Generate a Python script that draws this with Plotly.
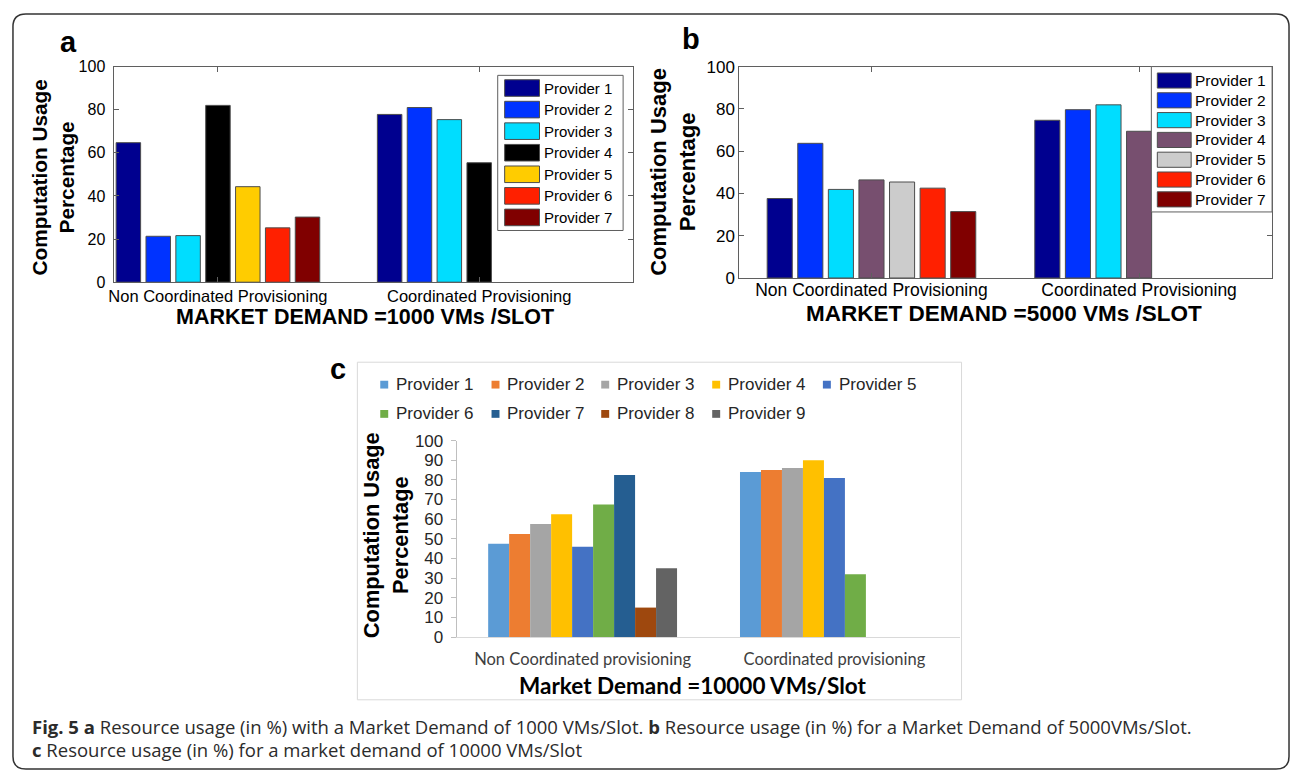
import plotly.graph_objects as go

W, H = 1291, 782

# ---------------- data ----------------
providers_ab = ["Provider 1", "Provider 2", "Provider 3", "Provider 4",
                "Provider 5", "Provider 6", "Provider 7"]
providers_c = ["Provider 1", "Provider 2", "Provider 3", "Provider 4", "Provider 5",
               "Provider 6", "Provider 7", "Provider 8", "Provider 9"]
categories_ab = ["Non Coordinated Provisioning", "Coordinated Provisioning"]
categories_c = ["Non Coordinated provisioning", "Coordinated provisioning"]

a_non = [64.7, 21.3, 21.6, 82.0, 44.3, 25.2, 30.2]
a_coord = [77.8, 81.0, 75.4, 55.4, None, None, None]
b_non = [37.6, 63.7, 41.9, 46.4, 45.4, 42.5, 31.4]
b_coord = [74.6, 79.6, 81.9, 69.4, None, None, None]
c_non = [47.5, 52.5, 57.5, 62.5, 46, 67.5, 82.5, 15, 35]
c_coord = [84, 85, 86, 90, 81, 32, None, None, None]

colors_a = ["#00008F", "#0033FF", "#00DDFF", "#000000", "#FFCC00", "#FF2000", "#800000"]
colors_b = ["#00008F", "#0033FF", "#00DDFF", "#774F6F", "#CCCCCC", "#FF2000", "#800000"]
colors_c = ["#5B9BD5", "#ED7D31", "#A5A5A5", "#FFC000", "#4472C4",
            "#70AD47", "#255E91", "#9E480E", "#636363"]

yticks_ab = [0, 20, 40, 60, 80, 100]
yticks_c = [0, 10, 20, 30, 40, 50, 60, 70, 80, 90, 100]

ARIAL = "Liberation Sans, Arial, sans-serif"
LATO = "Lato, sans-serif"


def X(px):
    return px / W


def Y(py):
    return 1 - py / H


fig = go.Figure()

# ---------------- bars: panels a and b (MATLAB style) ----------------
n_ab = len(providers_ab)
group_ab = 0.8
slot_ab = group_ab / n_ab
bw_ab = slot_ab * 0.82
for non, coord, cols, xa, ya in [(a_non, a_coord, colors_a, "x", "y"),
                                 (b_non, b_coord, colors_b, "x2", "y2")]:
    for i, name in enumerate(providers_ab):
        fig.add_trace(go.Bar(
            x=categories_ab, y=[non[i], coord[i]], name=name,
            xaxis=xa, yaxis=ya, showlegend=False,
            width=bw_ab, offset=-group_ab / 2 + i * slot_ab + (slot_ab - bw_ab) / 2,
            marker=dict(color=cols[i], line=dict(color="#4d4d4d", width=1)),
        ))

# ---------------- bars: panel c (Excel style) ----------------
n_c = len(providers_c)
group_c = 0.75
slot_c = group_c / n_c
for i, name in enumerate(providers_c):
    fig.add_trace(go.Bar(
        x=categories_c, y=[c_non[i], c_coord[i]], name=name,
        xaxis="x3", yaxis="y3", showlegend=False,
        width=slot_c, offset=-group_c / 2 + i * slot_c,
        marker=dict(color=colors_c[i], line=dict(width=0)),
    ))

axis_col = "#5f5f5f"
ab_x = dict(type="category", showline=True, linecolor=axis_col, linewidth=1,
            mirror="allticks", ticks="inside", ticklen=5, tickcolor=axis_col,
            showgrid=False, zeroline=False, fixedrange=True)
ab_y = dict(range=[0, 100], tickvals=yticks_ab, showline=True, linecolor=axis_col,
            linewidth=1, mirror="allticks", ticks="inside", ticklen=5,
            tickcolor=axis_col, showgrid=False, zeroline=False, fixedrange=True)

fig.update_layout(
    width=W, height=H, margin=dict(l=0, r=0, t=0, b=0),
    paper_bgcolor="white", plot_bgcolor="white",
    barmode="overlay", showlegend=False,
    font=dict(family=ARIAL, color="black"),
    xaxis=dict(ab_x, domain=[X(109), X(630)], anchor="y", range=[-0.396, 1.589],
               tickfont=dict(size=16.5, color="black"), ticklabelstandoff=-1),
    yaxis=dict(ab_y, domain=[Y(280), Y(59)], anchor="x", ticklabelstandoff=5,
               tickfont=dict(size=16, color="black")),
    xaxis2=dict(ab_x, domain=[X(736.7), X(1272)], anchor="y2", range=[-0.494, 1.497],
                tickfont=dict(size=17.5, color="black"), ticklabelstandoff=-4),
    yaxis2=dict(ab_y, domain=[Y(275.7), Y(59)], anchor="x2",
                tickfont=dict(size=17, color="black")),
    xaxis3=dict(type="category", domain=[X(452.8), X(958.8)], anchor="y3",
                range=[-0.5, 1.5], showline=True, linecolor="#d9d9d9", linewidth=1,
                ticks="", showgrid=False, zeroline=False, fixedrange=True,
                tickfont=dict(family=LATO, size=16.5, color="#404040"),
                ticklabelstandoff=7),
    yaxis3=dict(range=[0, 100], tickvals=yticks_c, domain=[Y(643.7), Y(442.3)],
                anchor="x3", showline=True, linecolor="#bfbfbf", linewidth=1,
                ticks="outside", ticklen=5, tickcolor="#bfbfbf", showgrid=False,
                zeroline=False, fixedrange=True,
                tickfont=dict(size=17, color="#262626"), ticklabelstandoff=4),
)

shapes = []
annotations = []

# outer rounded frame
x0, y0, x1, y1, r = 7, 5, 1289, 779, 13
rx, ry = r / W, r / H
path = (f"M {X(x0)+rx},{Y(y0)} L {X(x1)-rx},{Y(y0)} Q {X(x1)},{Y(y0)} {X(x1)},{Y(y0)-ry} "
        f"L {X(x1)},{Y(y1)+ry} Q {X(x1)},{Y(y1)} {X(x1)-rx},{Y(y1)} "
        f"L {X(x0)+rx},{Y(y1)} Q {X(x0)},{Y(y1)} {X(x0)},{Y(y1)+ry} "
        f"L {X(x0)},{Y(y0)-ry} Q {X(x0)},{Y(y0)} {X(x0)+rx},{Y(y0)} Z")
shapes.append(dict(type="path", xref="paper", yref="paper", path=path,
                   line=dict(color="#333333", width=1.5)))

# panel c frame
shapes.append(dict(type="rect", xref="paper", yref="paper",
                   x0=X(353), x1=X(960), y0=Y(708), y1=Y(362),
                   line=dict(color="#d9d9d9", width=1), layer="below"))


# MATLAB-style boxed legends for a and b
def matlab_legend(box, sw_x, row0, dy, sw_h, txt_x, cols, fsize):
    bx0, by0, bx1, by1 = box
    shapes.append(dict(type="rect", xref="paper", yref="paper",
                       x0=X(bx0), x1=X(bx1), y0=Y(by1), y1=Y(by0),
                       fillcolor="white", line=dict(color=axis_col, width=1)))
    for i, name in enumerate(providers_ab):
        cy = row0 + i * dy
        shapes.append(dict(type="rect", xref="paper", yref="paper",
                           x0=X(sw_x[0]), x1=X(sw_x[1]),
                           y0=Y(cy + sw_h / 2), y1=Y(cy - sw_h / 2),
                           fillcolor=cols[i], line=dict(color="#4d4d4d", width=1)))
        annotations.append(dict(xref="paper", yref="paper", x=X(txt_x), y=Y(cy),
                                xanchor="left", yanchor="middle", showarrow=False,
                                text=name, font=dict(size=fsize, color="black")))


matlab_legend((494, 68, 620, 227), (501, 536), 81, 22.1, 17, 539, colors_a, 15)
matlab_legend((1150.7, 59, 1272, 208), (1156.7, 1190.7), 73.3, 20.3, 15.5, 1193,
              colors_b, 15.5)

# Excel-style legend for c (two rows)
legend_c_x = [380, 491.8, 602, 713.5, 824.7]
legend_c_y = [385, 415]
for i, name in enumerate(providers_c):
    cx = legend_c_x[i % 5]
    cy = legend_c_y[i // 5]
    shapes.append(dict(type="rect", xref="paper", yref="paper",
                       x0=X(cx - 4), x1=X(cx + 4), y0=Y(cy + 4), y1=Y(cy - 4),
                       fillcolor=colors_c[i], line=dict(width=0)))
    annotations.append(dict(xref="paper", yref="paper", x=X(cx + 10), y=Y(cy),
                            xanchor="left", yanchor="middle", showarrow=False,
                            text=name, font=dict(size=17, color="#262626")))

# panel letters
for letter, px, py in [("a", 63, 34), ("b", 688, 30.5), ("c", 334, 369)]:
    annotations.append(dict(xref="paper", yref="paper", x=X(px), y=Y(py), text=letter,
                            showarrow=False, xanchor="center", yanchor="middle",
                            font=dict(size=29, weight="bold", color="black")))

# y titles
for px, py, fs in [(47, 173, 20.8), (670, 167, 22), (382, 539, 21.8)]:
    annotations.append(dict(xref="paper", yref="paper", x=X(px), y=Y(py),
                            text="Computation Usage<br>Percentage", textangle=-90,
                            showarrow=False, xanchor="center", yanchor="middle",
                            font=dict(size=fs, weight="bold", color="black")))

# x titles
annotations.append(dict(xref="paper", yref="paper", x=X(361), y=Y(316),
                        text="MARKET DEMAND =1000 VMs /SLOT", showarrow=False,
                        xanchor="center", yanchor="middle",
                        font=dict(size=21.5, weight="bold", color="black")))
annotations.append(dict(xref="paper", yref="paper", x=X(1003), y=Y(312.5),
                        text="MARKET DEMAND =5000 VMs /SLOT", showarrow=False,
                        xanchor="center", yanchor="middle",
                        font=dict(size=22.5, weight="bold", color="black")))
annotations.append(dict(xref="paper", yref="paper", x=X(690), y=Y(693),
                        text="Market Demand =10000 VMs/Slot", showarrow=False,
                        xanchor="center", yanchor="middle",
                        font=dict(family=LATO, size=22.5, weight="bold", color="black")))

# caption
cap_font = dict(family="Open Sans, sans-serif", size=18.5, color="#2b2b2b")
annotations.append(dict(xref="paper", yref="paper", x=X(24), y=Y(735),
                        xanchor="left", yanchor="middle", showarrow=False, font=cap_font,
                        text="<b>Fig. 5</b> <b>a</b> Resource usage (in %) with a Market Demand "
                             "of 1000 VMs/Slot. <b>b</b> Resource usage (in %) for a Market "
                             "Demand of 5000VMs/Slot."))
annotations.append(dict(xref="paper", yref="paper", x=X(24), y=Y(759),
                        xanchor="left", yanchor="middle", showarrow=False, font=cap_font,
                        text="<b>c</b> Resource usage (in %) for a market demand of "
                             "10000 VMs/Slot"))

fig.update_layout(shapes=shapes, annotations=annotations)

fig.write_html("out.html", config={"displayModeBar": False},
               post_script="document.body.style.margin='0px';")
